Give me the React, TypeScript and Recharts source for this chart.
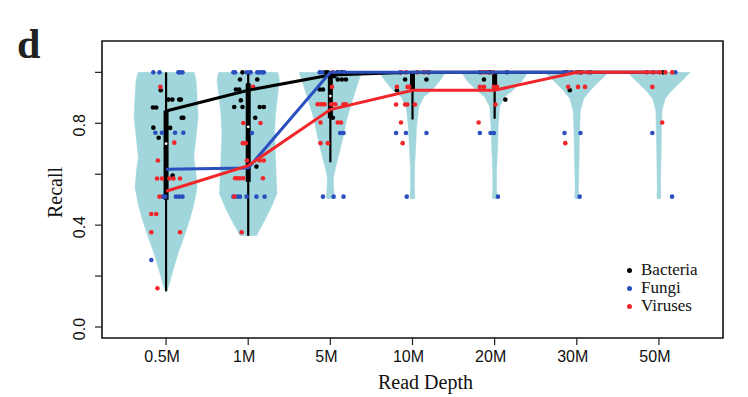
import React from "react";
import {
  ComposedChart,
  XAxis,
  YAxis,
  Scatter,
  Line,
  ErrorBar,
  ReferenceArea,
  Legend,
  Label,
} from "recharts";

const depthLabels = ["0.5M", "1M", "5M", "10M", "20M", "30M", "50M"];
const seriesNames = ["Bacteria", "Fungi", "Viruses"];
const seriesColors = ["#000000", "#2a4fbf", "#f2262a"];
const violinFill = "#a0d6dc";

// median recall per read depth
const bacteriaMedian = [0.848, 0.93, 0.99, 1, 1, 1, 1];
const fungiMedian = [0.62, 0.624, 1, 1, 1, 1, 1];
const virusMedian = [0.533, 0.634, 0.854, 0.93, 0.93, 1, 1];

// [min, q1, median, q3, max] of all samples per read depth
const boxStats = [
  [0.14, 0.5, 0.72, 0.85, 1],
  [0.358, 0.57, 0.786, 0.957, 1],
  [0.647, 0.82, 0.907, 1, 1],
  [0.815, 0.93, 1, 1, 1],
  [0.818, 0.93, 1, 1, 1],
  [1, 1, 1, 1, 1],
  [1, 1, 1, 1, 1],
];

// violin density outline: [recall, half width]
const violin05M = [[0.139, 0.006], [0.17, 0.04], [0.22, 0.082], [0.286, 0.143], [0.352, 0.216], [0.418, 0.284], [0.483, 0.34], [0.549, 0.378], [0.615, 0.36], [0.667, 0.337], [0.746, 0.365], [0.825, 0.39], [0.9, 0.378], [0.97, 0.365], [1, 0.34]];
const violin1M = [[0.358, 0.1], [0.378, 0.13], [0.418, 0.2], [0.47, 0.28], [0.523, 0.35], [0.6, 0.34], [0.68, 0.33], [0.76, 0.32], [0.838, 0.333], [0.917, 0.36], [0.97, 0.38], [1, 0.36]];
const violin5M = [[0.503, 0.04], [0.51, 0.048], [0.549, 0.04], [0.588, 0.037], [0.628, 0.065], [0.68, 0.106], [0.746, 0.155], [0.81, 0.195], [0.877, 0.256], [0.943, 0.32], [1, 0.38]];
const violin10M = [[0.503, 0.02], [0.51, 0.03], [0.55, 0.022], [0.628, 0.025], [0.694, 0.037], [0.785, 0.05], [0.864, 0.077], [0.904, 0.138], [0.93, 0.24], [0.97, 0.34], [1, 0.4]];
const violin20M = [[0.503, 0.02], [0.51, 0.03], [0.55, 0.022], [0.628, 0.025], [0.694, 0.035], [0.785, 0.043], [0.864, 0.06], [0.904, 0.122], [0.93, 0.223], [0.97, 0.345], [1, 0.4]];
const violin30M = [[0.503, 0.015], [0.51, 0.024], [0.55, 0.02], [0.65, 0.028], [0.75, 0.032], [0.85, 0.043], [0.897, 0.085], [0.93, 0.167], [0.97, 0.29], [1, 0.39]];
const violin50M = [[0.503, 0.015], [0.51, 0.024], [0.55, 0.02], [0.65, 0.025], [0.75, 0.03], [0.85, 0.037], [0.897, 0.077], [0.93, 0.16], [0.97, 0.29], [1, 0.38]];
const violinProfiles = [violin05M, violin1M, violin5M, violin10M, violin20M, violin30M, violin50M];

// samples: [depth index (1-based), jitter, recall]
const bacteriaDots = [
  [1, -0.065, 0.93], [1, 0.03, 0.893], [1, 0.077, 0.893], [1, 0.16, 0.893], [1, 0.18, 0.893], [1, -0.16, 0.862], [1, -0.12, 0.862], [1, 0.19, 0.822], [1, 0.21, 0.822], [1, -0.155, 0.783], [1, 0.05, 0.782], [1, -0.09, 0.743], [1, 0.08, 0.595],
  [2, -0.07, 1], [2, -0.1, 0.972], [2, 0.11, 0.972], [2, -0.15, 0.933], [2, -0.11, 0.933], [2, -0.09, 0.89], [2, -0.17, 0.864], [2, -0.07, 0.864], [2, 0.14, 0.864], [2, 0.19, 0.864], [2, 0.085, 0.822], [2, 0.1, 0.63],
  [3, -0.06, 1], [3, -0.03, 1], [3, 0.09, 1], [3, 0.14, 1], [3, 0.05, 0.985], [3, 0.09, 0.972], [3, 0.14, 0.972], [3, 0.19, 0.972], [3, -0.13, 0.933], [3, -0.09, 0.933], [3, 0.03, 0.822],
  [4, -0.09, 0.972], [4, 0.17, 0.972], [4, -0.19, 0.93],
  [5, -0.06, 1], [5, -0.13, 0.972], [5, 0.13, 0.893],
  [6, -0.085, 0.93], [6, 0.04, 1],
  [7, 0.05, 1],
];
const fungiDots = [
  [1, -0.155, 1], [1, -0.08, 1], [1, 0.15, 1], [1, 0.17, 1], [1, 0.2, 1], [1, -0.13, 0.763], [1, -0.05, 0.763], [1, 0.11, 0.763], [1, 0.21, 0.763], [1, -0.04, 0.512], [1, -0.01, 0.512], [1, 0.12, 0.512], [1, 0.16, 0.512], [1, 0.2, 0.512], [1, -0.18, 0.263],
  [2, -0.18, 1], [2, -0.16, 1], [2, -0.02, 1], [2, 0.02, 1], [2, 0.03, 1], [2, 0.11, 1], [2, 0.14, 1], [2, 0.17, 1], [2, 0.19, 1], [2, 0.045, 0.762], [2, -0.18, 0.512], [2, -0.13, 0.512], [2, -0.1, 0.512], [2, -0.02, 0.512], [2, 0.1, 0.512], [2, 0.2, 0.512],
  [3, -0.13, 1], [3, -0.1, 1], [3, 0.17, 1], [3, 0.12, 0.762], [3, 0.16, 0.762], [3, -0.09, 0.512], [3, 0.04, 0.512], [3, 0.16, 0.512],
  [4, -0.15, 1], [4, 0.2, 1], [4, -0.2, 0.762], [4, -0.08, 0.762], [4, 0.17, 0.762], [4, -0.07, 0.512],
  [5, -0.18, 1], [5, 0.15, 1], [5, -0.18, 0.762], [5, -0.05, 0.762], [5, -0.01, 0.762], [5, 0.04, 0.512],
  [6, -0.15, 1], [6, 0.17, 1], [6, -0.15, 0.762], [6, 0.045, 0.762], [6, 0.035, 0.512],
  [7, 0.2, 1], [7, -0.08, 0.762], [7, 0.16, 0.512],
];
const virusDots = [
  [1, -0.07, 0.943], [1, 0.1, 0.724], [1, -0.1, 0.654], [1, -0.11, 0.583], [1, -0.05, 0.583], [1, 0.04, 0.583], [1, 0.09, 0.583], [1, 0.17, 0.583], [1, -0.08, 0.512], [1, -0.18, 0.444], [1, -0.12, 0.444], [1, -0.18, 0.372], [1, 0.17, 0.372], [1, -0.105, 0.152],
  [2, 0.06, 0.943], [2, -0.06, 0.801], [2, 0.15, 0.801], [2, -0.065, 0.722], [2, -0.03, 0.722], [2, -0.015, 0.654], [2, 0.14, 0.654], [2, 0.19, 0.654], [2, -0.16, 0.584], [2, -0.13, 0.584], [2, -0.1, 0.584], [2, -0.06, 0.584], [2, 0.18, 0.584], [2, -0.17, 0.512], [2, -0.08, 0.372],
  [3, 0.03, 1], [3, 0.02, 0.943], [3, -0.155, 0.875], [3, -0.12, 0.875], [3, -0.095, 0.875], [3, -0.07, 0.875], [3, 0.01, 0.875], [3, 0.03, 0.875], [3, 0.06, 0.875], [3, 0.16, 0.875], [3, 0.19, 0.875], [3, -0.12, 0.803], [3, 0.09, 0.803], [3, 0.13, 0.803], [3, -0.12, 0.722], [3, -0.03, 0.722],
  [4, -0.14, 1], [4, -0.08, 1], [4, 0.06, 1], [4, 0.14, 1], [4, 0.19, 1], [4, -0.19, 0.943], [4, -0.06, 0.943], [4, -0.04, 0.943], [4, -0.2, 0.874], [4, -0.09, 0.874], [4, -0.065, 0.874], [4, 0.03, 0.874], [4, -0.14, 0.803], [4, -0.12, 0.722],
  [5, -0.16, 1], [5, -0.12, 1], [5, -0.08, 1], [5, -0.02, 1], [5, -0.18, 0.943], [5, -0.13, 0.943], [5, -0.01, 0.943], [5, 0.03, 0.943], [5, 0.01, 0.874], [5, -0.195, 0.803],
  [6, -0.12, 1], [6, -0.065, 1], [6, 0, 1], [6, 0.06, 1], [6, 0.14, 1], [6, -0.105, 0.943], [6, 0.015, 0.943], [6, 0.1, 0.943], [6, -0.14, 0.722],
  [7, -0.15, 1], [7, -0.07, 1], [7, 0.01, 1], [7, 0.08, 1], [7, 0.16, 1], [7, -0.08, 0.943], [7, 0.04, 0.803],
];

const yTicks = [0, 0.2, 0.4, 0.6, 0.8, 1];
const yLabeled = [0, 0.4, 0.8];
const xTicks = depthLabels.map((_, i) => i + 1);
const xDomain = [0.22, 7.78];
const yDomain = [-0.0432, 1.1232];

const sans = "'Liberation Sans', Arial, Helvetica, sans-serif";
const serif = "'Liberation Serif', 'Times New Roman', Times, serif";

const violinPolys = violinProfiles.map((profile, i) => {
  const pos = i + 1;
  const right = profile.map(([y, w]) => ({ x: pos + w, y }));
  const left = [...profile].reverse().map(([y, w]) => ({ x: pos - w, y }));
  return [...right, ...left];
});

const boxData = boxStats.map(([lo, q1, med, q3, hi], i) => ({
  x: i + 1,
  y: med,
  whisker: [med - lo, hi - med],
  iqr: [med - q1, q3 - med],
}));

const medianSeries = [bacteriaMedian, fungiMedian, virusMedian].map((vals) =>
  vals.map((y, i) => ({ x: i + 1, y }))
);

const dotSeries = [bacteriaDots, fungiDots, virusDots].map((dots) =>
  dots.map(([d, j, r]) => ({ x: d + j, y: r }))
);

const noShape = () => <g />;

const dotShape = (color: string) => (props: any) =>
  <circle cx={props.cx} cy={props.cy} r={2.3} fill={color} />;

const medianDot = (props: any) => <circle cx={props.cx} cy={props.cy} r={1.4} fill="#ffffff" />;

const XTick = ({ x, y, payload }: any) => (
  <text x={x} y={y} dx={-4} dy={15} textAnchor="middle" fontFamily={sans} fontSize={16} fill="#111">
    {depthLabels[payload.value - 1]}
  </text>
);

const YTick = ({ x, y, payload }: any) =>
  yLabeled.includes(payload.value) ? (
    <text
      transform={`translate(${x - 8},${y + 2}) rotate(-90)`}
      textAnchor="middle"
      fontFamily={sans}
      fontSize={16}
      fill="#111"
    >
      {payload.value.toFixed(1)}
    </text>
  ) : (
    <g />
  );

const renderLegend = () => (
  <div style={{ fontFamily: serif, fontSize: 17, lineHeight: "18px", color: "#111" }}>
    {seriesNames.map((name, i) => (
      <div key={name} style={{ display: "flex", alignItems: "center", height: 18 }}>
        <span
          style={{
            display: "inline-block",
            width: 5,
            height: 5,
            borderRadius: "50%",
            background: seriesColors[i],
            marginRight: 9,
          }}
        />
        <span style={{ lineHeight: "16px" }}>{name}</span>
      </div>
    ))}
  </div>
);

const App: React.FC = () => {
  return (
    <div style={{ position: "absolute", left: 0, top: 0, width: 748, height: 397, background: "#fff" }}>
      <div
        style={{
          position: "absolute",
          left: 17,
          top: 23,
          fontFamily: serif,
          fontWeight: "bold",
          fontSize: 42,
          lineHeight: "42px",
          color: "#222",
          zIndex: 2,
        }}
      >
        d
      </div>
      <ComposedChart width={748} height={397} margin={{ top: 41, right: 25, bottom: 0, left: 0 }}>
        <XAxis
          type="number"
          dataKey="x"
          domain={xDomain}
          ticks={xTicks}
          interval={0}
          allowDataOverflow
          height={59}
          tickSize={7}
          axisLine={false}
          tickLine={{ stroke: "#222", strokeWidth: 1.2 }}
          tick={XTick}
        >
          <Label
            content={({ viewBox }: any) => (
              <text
                x={viewBox.x + viewBox.width / 2 + 13}
                y={viewBox.y + 51}
                textAnchor="middle"
                fontFamily={serif}
                fontSize={20}
                fill="#111"
              >
                Read Depth
              </text>
            )}
          />
        </XAxis>
        <YAxis
          type="number"
          dataKey="y"
          domain={yDomain}
          ticks={yTicks}
          interval={0}
          allowDataOverflow
          width={102}
          tickSize={7}
          axisLine={false}
          tickLine={{ stroke: "#222", strokeWidth: 1.2 }}
          tick={YTick}
        >
          <Label
            content={({ viewBox }: any) => (
              <text
                transform={`translate(${viewBox.x + 62},${viewBox.y + viewBox.height / 2 + 3}) rotate(-90)`}
                textAnchor="middle"
                fontFamily={serif}
                fontSize={20}
                fill="#111"
              >
                Recall
              </text>
            )}
          />
        </YAxis>

        {violinPolys.map((poly, i) => (
          <Scatter
            key={`violin-${i}`}
            data={poly}
            shape={noShape}
            line={{ fill: violinFill, stroke: violinFill, strokeWidth: 0.5 }}
            lineJointType="linear"
            legendType="none"
            isAnimationActive={false}
            zIndex={100}
          />
        ))}

        <Scatter data={boxData} shape={medianDot} legendType="none" isAnimationActive={false} zIndex={150}>
          <ErrorBar dataKey="whisker" direction="y" width={0} stroke="#000" strokeWidth={2.2} isAnimationActive={false} zIndex={150} />
          <ErrorBar dataKey="iqr" direction="y" width={0} stroke="#000" strokeWidth={5} isAnimationActive={false} zIndex={150} />
        </Scatter>

        {dotSeries.map((pts, i) => (
          <Scatter
            key={`dots-${i}`}
            name={seriesNames[i]}
            data={pts}
            shape={dotShape(seriesColors[i])}
            isAnimationActive={false}
            zIndex={200}
          />
        ))}

        {medianSeries.map((pts, i) => (
          <Line
            key={`median-${i}`}
            data={pts}
            dataKey="y"
            stroke={seriesColors[i]}
            strokeWidth={3}
            dot={false}
            activeDot={false}
            legendType="none"
            isAnimationActive={false}
            zIndex={300}
          />
        ))}

        <ReferenceArea
          x1={xDomain[0]}
          x2={xDomain[1]}
          y1={yDomain[0]}
          y2={yDomain[1]}
          fill="none"
          stroke="#111"
          strokeWidth={1.6}
          ifOverflow="visible"
          zIndex={400}
        />

        <Legend
          layout="vertical"
          align="center"
          verticalAlign="middle"
          content={renderLegend}
          wrapperStyle={{ left: 627, top: 261, width: 110 }}
        />
      </ComposedChart>
    </div>
  );
};

export default App;
